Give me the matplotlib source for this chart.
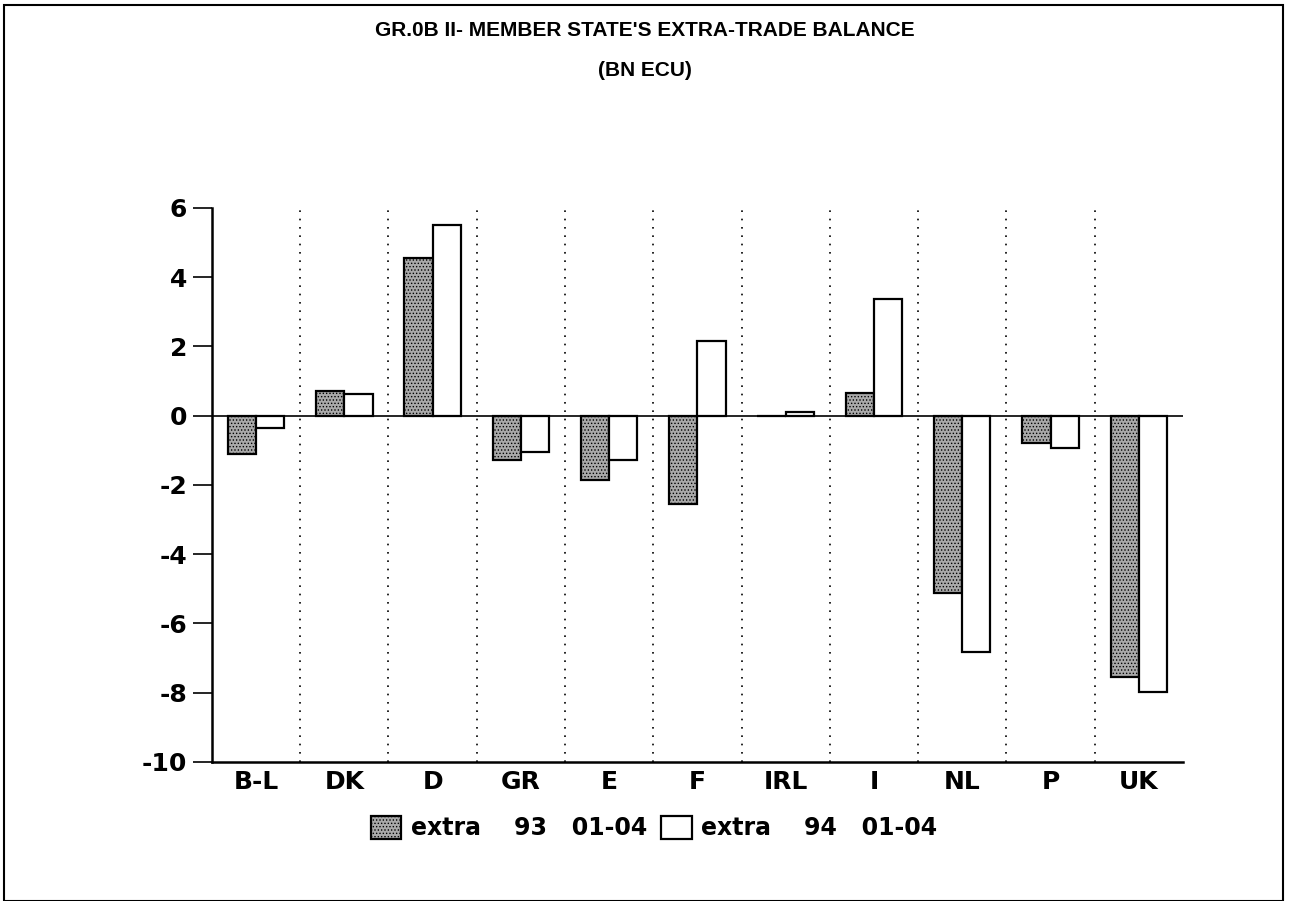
import numpy as np
import matplotlib.pyplot as plt
from matplotlib.patches import Rectangle, Patch

countries = ['B-L', 'DK', 'D', 'GR', 'E', 'F', 'IRL', 'I', 'NL', 'P', 'UK']
extra_93 = [-1.1, 0.72, 4.55, -1.28, -1.85, -2.55, 0.0, 0.65, -5.12, -0.8, -7.55]
extra_94 = [-0.35, 0.62, 5.5, -1.05, -1.28, 2.15, 0.1, 3.38, -6.82, -0.92, -7.98]
yticks = [6, 4, 2, 0, -2, -4, -6, -8, -10]

plt.rcParams['font.family'] = ['Liberation Sans', 'DejaVu Sans']
plt.rcParams['font.weight'] = 'bold'
plt.rcParams['hatch.linewidth'] = 0.6
wide = 'DejaVu Sans'  # the tick and legend lettering is wide, like an extended face

fig = plt.figure(figsize=(12.9, 9.01), dpi=100)
ax = fig.add_axes([0.1643, 0.1543, 0.7527, 0.6149])

x = np.arange(len(countries))
w = 0.32
dark = dict(facecolor='#a9a9a9', edgecolor='black', hatch='.....', linewidth=1.6)
light = dict(facecolor='white', edgecolor='black', linewidth=1.6)
ax.bar(x - w / 2, extra_93, w, **dark)
ax.bar(x + w / 2, extra_94, w, **light)

ax.set_xlim(-0.5, len(countries) - 0.5)
ax.set_ylim(-10, 6)
ax.axhline(0, color='black', lw=1.2)
ax.vlines(x[:-1] + 0.5, -10, 6, colors='black', linestyles=(0, (1, 4)), lw=1.2)

ax.set_yticks(yticks)
ax.set_yticklabels([str(v) for v in yticks], fontsize=18, fontweight='bold', family=wide)
ax.tick_params(axis='y', length=14, width=1.2, pad=4)
ax.set_xticks(x)
ax.set_xticklabels(countries, fontsize=18, fontweight='bold', family=wide)
ax.tick_params(axis='x', length=0, pad=6)
for s in ['top', 'right']:
    ax.spines[s].set_visible(False)
ax.spines['left'].set_linewidth(1.8)
ax.spines['bottom'].set_linewidth(1.8)

fig.text(0.5, 0.966, "GR.0B II- MEMBER STATE'S EXTRA-TRADE BALANCE", ha='center', va='center',
         fontsize=15, fontweight='bold')
fig.text(0.5, 0.922, '(BN ECU)', ha='center', va='center', fontsize=15, fontweight='bold')

handles = [Patch(**dark), Patch(**light)]
fig.legend(handles, ['extra    93   01-04', 'extra    94   01-04'], loc='center',
           bbox_to_anchor=(0.507, 0.081), ncol=2, frameon=False,
           prop={'family': wide, 'size': 17, 'weight': 'bold'},
           handlelength=1.3, handleheight=1.1, handletextpad=0.4, columnspacing=0.6)

fig.patches.append(Rectangle((4 / 1290, 0.0), 1279 / 1290, 1 - 5 / 901, transform=fig.transFigure,
                             fill=False, edgecolor='black', lw=1.5))

fig.savefig('out.png', dpi=100)
